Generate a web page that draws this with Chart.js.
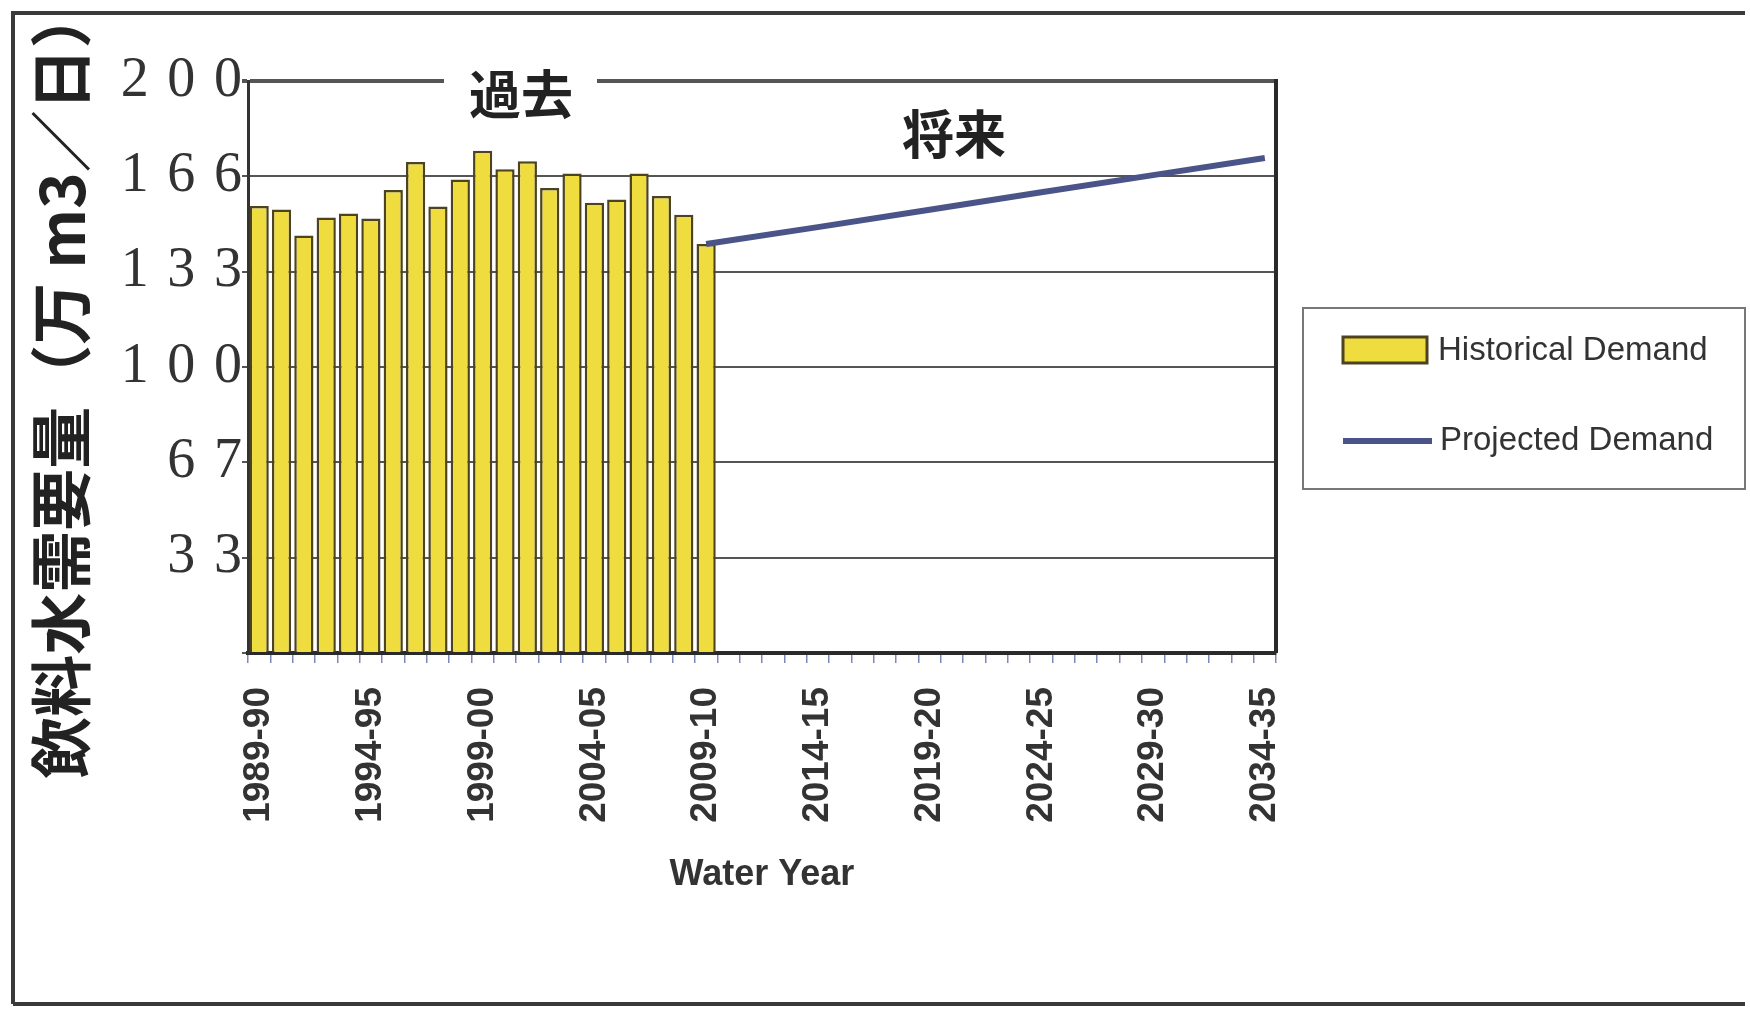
<!DOCTYPE html>
<html>
<head>
<meta charset="utf-8">
<title>飲料水需要量</title>
<script src="https://cdn.jsdelivr.net/npm/chart.js@4.4.1/dist/chart.umd.min.js"></script>
<style>
  html, body { margin: 0; padding: 0; background: #fff; }
  #wrap { width: 1750px; height: 1010px; }
</style>
</head>
<body>
<div id="wrap"><canvas id="demandChart" width="1750" height="1010"></canvas></div>
<script>
// categories (water years)
const waterYears = [
  '1989-90', '1990-91', '1991-92', '1992-93', '1993-94', '1994-95', '1995-96', '1996-97',
  '1997-98', '1998-99', '1999-00', '2000-01', '2001-02', '2002-03', '2003-04', '2004-05',
  '2005-06', '2006-07', '2007-08', '2008-09', '2009-10', '2010-11', '2011-12', '2012-13',
  '2013-14', '2014-15', '2015-16', '2016-17', '2017-18', '2018-19', '2019-20', '2020-21',
  '2021-22', '2022-23', '2023-24', '2024-25', '2025-26', '2026-27', '2027-28', '2028-29',
  '2029-30', '2030-31', '2031-32', '2032-33', '2033-34', '2034-35'
];
// labels shown on the x axis
const xTickLabels = ['1989-90', '1994-95', '1999-00', '2004-05', '2009-10',
                     '2014-15', '2019-20', '2024-25', '2029-30', '2034-35'];
// labels shown on the y axis (0 .. 200 in six steps)
const yTickLabels = ['', '33', '67', '100', '133', '166', '200'];

// 過去 : historical demand, 1989-90 .. 2009-10
const historicalDemand = [156.3, 155.1, 146.0, 152.3, 153.7, 151.9, 161.9, 171.7, 156.1, 165.6,
                          175.6, 169.1, 171.9, 162.6, 167.7, 157.4, 158.6, 167.7, 159.8, 153.2, 143.0];
// 将来 : projected demand
const projectedYears = ['2009-10', '2014-15', '2019-20', '2024-25', '2029-30', '2034-35'];
const projectedDemand = [143.0, 148.9, 155.0, 161.1, 167.1, 173.1];

const barFill = '#efdc3e';
const barEdge = '#4d4320';
const lineColor = '#4b5488';

// white page, scan frame, right border, period labels and legend
const pageDecor = {
  id: 'pageDecor',
  beforeDraw(chart) {
    const c = chart.ctx;
    c.save();
    c.fillStyle = '#fff';
    c.fillRect(0, 0, chart.width, chart.height);
    c.strokeStyle = '#3a3a3a';
    c.lineWidth = 4;
    c.beginPath();
    c.moveTo(13, 1004); c.lineTo(13, 13); c.lineTo(1745, 13);
    c.moveTo(13, 1004); c.lineTo(1745, 1004);
    c.stroke();
    c.restore();
  },
  afterDraw(chart) {
    const c = chart.ctx;
    const a = chart.chartArea;
    c.save();
    // right edge of the plot
    c.strokeStyle = '#2a2a2a';
    c.lineWidth = 4;
    c.beginPath(); c.moveTo(a.right, a.top - 2); c.lineTo(a.right, a.bottom); c.stroke();

    // 過去 sits in a gap of the top line
    c.fillStyle = '#fff';
    c.fillRect(444, a.top - 28, 153, 56);
    c.fillStyle = '#222';
    c.font = 'bold 52px "Noto Sans CJK JP"';
    c.textAlign = 'center';
    c.textBaseline = 'middle';
    c.fillText('過去', 521, 94);
    c.fillText('将来', 954, 134);

    // legend
    const ds = chart.data.datasets;
    const bar = ds.find(d => d.type !== 'line');
    const line = ds.find(d => d.type === 'line');
    c.strokeStyle = '#777';
    c.lineWidth = 2;
    c.strokeRect(1303, 308, 442, 181);

    c.fillStyle = bar.backgroundColor;
    c.fillRect(1343, 337, 84, 26);
    c.strokeStyle = bar.borderColor;
    c.lineWidth = 3;
    c.strokeRect(1343, 337, 84, 26);

    c.strokeStyle = line.borderColor;
    c.lineWidth = line.borderWidth;
    c.beginPath(); c.moveTo(1343, 441); c.lineTo(1432, 441); c.stroke();

    c.fillStyle = '#333';
    c.font = '33px "Liberation Sans"';
    c.textAlign = 'left';
    c.fillText(bar.label, 1438, 351);
    c.fillText(line.label, 1440, 441);
    c.restore();
  }
};

const ctx = document.getElementById('demandChart').getContext('2d');
const demandChart = new Chart(ctx, {
  type: 'bar',
  data: {
    labels: waterYears,
    datasets: [
      {
        type: 'line',
        label: 'Projected Demand',
        data: projectedYears.map((y, i) => ({ x: y, y: projectedDemand[i] })),
        borderColor: lineColor,
        borderWidth: 6,
        pointRadius: 0,
        tension: 0,
        spanGaps: true,
        order: 0
      },
      {
        label: 'Historical Demand',
        data: historicalDemand,
        backgroundColor: barFill,
        borderColor: barEdge,
        borderWidth: 2.5,
        barPercentage: 0.86,
        categoryPercentage: 1.0,
        order: 1
      }
    ]
  },
  options: {
    responsive: false,
    animation: false,
    layout: { padding: { top: 81, right: 474, bottom: 117, left: 30 } },
    plugins: {
      legend: { display: false },
      tooltip: { enabled: false }
    },
    scales: {
      x: {
        afterFit(scale) { scale.height = 240; },
        grid: {
          drawOnChartArea: false,
          drawTicks: true,
          tickLength: 10,
          color: '#7f86b8',
          lineWidth: 1.5
        },
        border: { display: true, color: '#2a2a2a', width: 4 },
        ticks: {
          autoSkip: false,
          maxRotation: 90,
          minRotation: 90,
          padding: 24,
          color: '#333',
          font: { family: 'Liberation Sans', size: 37, weight: 'bold' },
          callback(value) {
            const lab = this.getLabelForValue(value);
            return xTickLabels.includes(lab) ? lab : '';
          }
        },
        title: {
          display: true,
          text: 'Water Year',
          color: '#333',
          font: { family: 'Liberation Sans', size: 36, weight: 'bold', lineHeight: 1 },
          padding: { top: 0, bottom: 0 }
        }
      },
      y: {
        min: 0,
        max: 200,
        afterFit(scale) { scale.width = 218; },
        grid: {
          color: '#555',
          lineWidth: c => (c.tick && c.tick.value === 200 ? 4 : 2),
          drawTicks: true,
          tickLength: 6
        },
        border: { display: true, color: '#333', width: 3 },
        ticks: {
          count: 7,
          padding: 0,
          color: '#333',
          font: { family: 'Liberation Serif', size: 56 },
          callback(value, index) {
            return yTickLabels[index].split('').join('\u2004');
          }
        },
        title: {
          display: true,
          text: '飲料水需要量（万 m3／日）\u3000',
          color: '#222',
          font: { family: 'Noto Sans CJK JP', size: 62, weight: 'bold', lineHeight: 1 },
          padding: { top: 0, bottom: 0 }
        }
      }
    }
  },
  plugins: [pageDecor]
});
</script>
</body>
</html>
